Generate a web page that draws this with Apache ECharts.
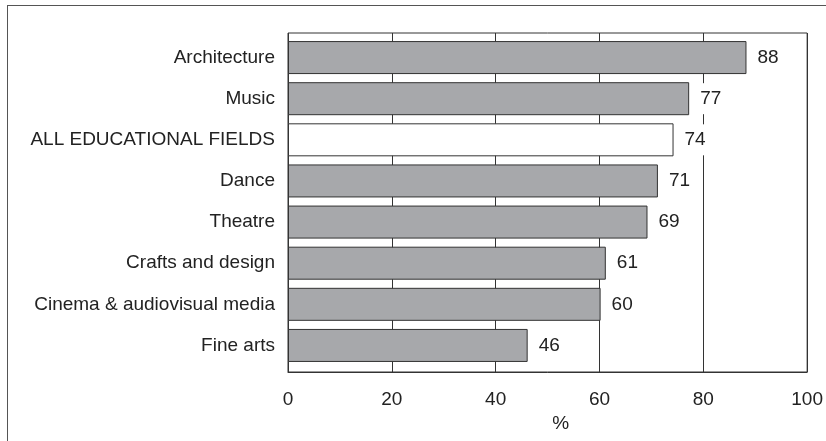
<!DOCTYPE html>
<html><head><meta charset="utf-8">
<script src="https://cdn.jsdelivr.net/npm/echarts@6/dist/echarts.min.js"></script>
<style>
html,body{margin:0;padding:0;background:#fff;}
#frame{position:absolute;left:7px;top:5px;width:840px;height:460px;border-left:1.5px solid #555;border-top:1.5px solid #555;}
#chart{position:absolute;left:0;top:0;width:826px;height:441px;}
</style></head>
<body>
<div id="frame"></div>
<div id="chart"></div>
<script>
const categories = ["Architecture","Music","ALL EDUCATIONAL FIELDS","Dance","Theatre","Crafts and design","Cinema & audiovisual media","Fine arts"];
const values = [88,77,74,71,69,61,60,46];
const highlighted = "ALL EDUCATIONAL FIELDS";
const xTicks = [0,20,40,60,80,100];
const axisTitle = "%";

const FONT = '"Liberation Sans Narrow","Arial Narrow","Liberation Sans",sans-serif';
const FS = 19;
const chart = echarts.init(document.getElementById('chart'), null, {renderer:'canvas'});
chart.setOption({
  animation:false,
  grid:[
    {left:288,right:17,top:33,bottom:69,show:true,borderColor:'#333',borderWidth:1,backgroundColor:'transparent'},
    {left:288,right:17,top:37,bottom:75}
  ],
  xAxis:[
    {type:'value',gridIndex:0,min:xTicks[0],max:xTicks[xTicks.length-1],interval:20,
    name:axisTitle,nameLocation:'middle',nameGap:41,
    nameTextStyle:{fontFamily:FONT,fontSize:FS,color:'#222',padding:[0,0,0,26]},
    axisLine:{show:true,lineStyle:{color:'#333',width:1}},
    axisTick:{show:false},
    axisLabel:{fontFamily:FONT,fontSize:FS,color:'#222',margin:18},
    splitLine:{show:true,lineStyle:{color:'#333',width:1}}},
    {type:'value',gridIndex:1,min:xTicks[0],max:xTicks[xTicks.length-1],interval:20,show:false}
  ],
  yAxis:[
    {type:'category',gridIndex:0,data:categories,inverse:true,show:false},
    {type:'category',gridIndex:1,data:categories,inverse:true,
    axisLine:{show:false},
    axisTick:{show:false},
    axisLabel:{fontFamily:FONT,fontSize:FS,color:'#222',margin:13},
    splitLine:{show:false}}
  ],
  series:[{type:'bar',xAxisIndex:1,yAxisIndex:1,barWidth:33,
    data:values.map((v,i)=>({value:v,itemStyle:{color:categories[i]===highlighted?'#ffffff':'#a7a8ab'}})),
    itemStyle:{borderColor:'#333',borderWidth:1},
    label:{show:true,position:'right',distance:9,fontFamily:FONT,fontSize:FS,color:'#222',
      backgroundColor:'#fff',padding:[6,2,6,2]}
  }]
});
</script>
</body></html>
